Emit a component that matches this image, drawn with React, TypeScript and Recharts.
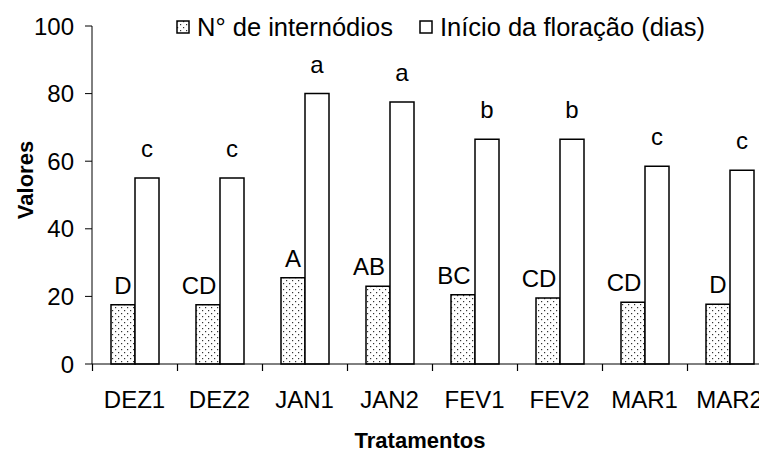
import { BarChart, Bar, XAxis, YAxis, Legend, LabelList } from 'recharts';

// --- DATA ---
const tratamentos = ['DEZ1', 'DEZ2', 'JAN1', 'JAN2', 'FEV1', 'FEV2', 'MAR1', 'MAR2'];
const internodios = [17.5, 17.5, 25.5, 23, 20.5, 19.5, 18.3, 17.7];
const floracao = [55, 55, 80, 77.5, 66.5, 66.5, 58.5, 57.3];
const letrasInternodios = ['D', 'CD', 'A', 'AB', 'BC', 'CD', 'CD', 'D'];
const letrasFloracao = ['c', 'c', 'a', 'a', 'b', 'b', 'c', 'c'];
const yTicks = [0, 20, 40, 60, 80, 100];
const seriesOrder = ['internodios', 'floracao'];

const data = tratamentos.map((t, i) => ({
  name: t,
  internodios: internodios[i],
  floracao: floracao[i],
  letraA: letrasInternodios[i],
  letraB: letrasFloracao[i],
}));

const FONT = '"Liberation Sans", Arial, sans-serif';
const tickText = { fill: '#000', fontSize: 24, fontFamily: FONT };

// letters above the bars
const makeLetter = (gap: number) => (props: any) => {
  const { x, y, width, value } = props;
  const shift = String(value).length > 1 ? -9 : 0;
  return (
    <text x={x + width / 2 + shift} y={y - gap} textAnchor="middle" fontSize={24} fontFamily={FONT} fill="#000">
      {value}
    </text>
  );
};

// category label in the middle, tick mark on the left edge of the band
const CategoryTick = (props: any) => {
  const { x, y, payload } = props;
  const lx = Math.round(x - (payload.offset || 0)) + 0.5;
  return (
    <g>
      <line x1={lx} x2={lx} y1={y} y2={y + 7} stroke="#000" strokeWidth={1.2} fill="none" />
      <text x={x} y={y + 27} dy="0.71em" textAnchor="middle" fontSize={24} fontFamily={FONT} fill="#000">
        {payload.value}
      </text>
    </g>
  );
};

const ValoresLabel = (props: any) => {
  const { viewBox } = props;
  const cx = viewBox.x + 1;
  const cy = viewBox.y + viewBox.height / 2 - 15;
  return (
    <text x={cx} y={cy} transform={`rotate(-90, ${cx}, ${cy})`} textAnchor="middle" fontSize={22} fontWeight="bold" fontFamily={FONT} fill="#000">
      Valores
    </text>
  );
};

const Dots = ({ id }: { id: string }) => (
  <pattern id={id} width="6" height="6" patternUnits="userSpaceOnUse">
    <rect width="6" height="6" fill="#fff" />
    <rect x="1" y="1" width="1.2" height="1.2" fill="#333" />
    <rect x="4" y="4" width="1.2" height="1.2" fill="#333" />
  </pattern>
);

const LegendBox = ({ payload }: any) => {
  const items = [...(payload || [])].sort(
    (a: any, b: any) => seriesOrder.indexOf(a.dataKey) - seriesOrder.indexOf(b.dataKey)
  );
  return (
    <div style={{ display: 'flex', alignItems: 'center', fontFamily: FONT, fontSize: 25.5, color: '#000', lineHeight: '30px', whiteSpace: 'nowrap' }}>
      {items.map((p: any, i: number) => (
        <div key={i} style={{ display: 'flex', alignItems: 'center', marginLeft: i === 0 ? 0 : 26 }}>
          <svg width={14} height={14} style={{ marginRight: 7 }}>
            <defs>
              <Dots id={`leg-dots-${i}`} />
            </defs>
            <rect x={1} y={1} width={12} height={12} fill={p.dataKey === 'internodios' ? `url(#leg-dots-${i})` : '#fff'} stroke="#000" strokeWidth={1.5} />
          </svg>
          <span>{p.value}</span>
        </div>
      ))}
    </div>
  );
};

export default function App() {
  return (
    <div style={{ position: 'absolute', left: 0, top: 0, background: '#fff' }}>
      <BarChart
        width={759}
        height={452}
        data={data}
        margin={{ top: 26, right: -13, bottom: 38, left: 32 }}
        barSize={24}
        barGap={0}
      >
        <defs>
          <Dots id="bar-dots" />
        </defs>
        <XAxis
          dataKey="name"
          tickLine={false}
          tickSize={0}
          tickMargin={0}
          tick={<CategoryTick />}
          axisLine={{ stroke: '#000', strokeWidth: 1 }}
          height={50}
          interval={0}
          label={{ value: 'Tratamentos', position: 'insideBottom', offset: -34, dx: -12, fontSize: 22, fontWeight: 'bold', fontFamily: FONT, fill: '#000' }}
        />
        <YAxis
          domain={[0, 100]}
          ticks={yTicks}
          width={60}
          tickSize={7}
          tickMargin={11}
          tick={tickText}
          axisLine={{ stroke: '#000', strokeWidth: 1 }}
          tickLine={{ stroke: '#000', strokeWidth: 1 }}
          label={<ValoresLabel />}
        />
        {/* vertical + middle + center keeps the legend from shrinking the plot area */}
        <Legend
          layout="vertical"
          verticalAlign="middle"
          align="center"
          content={<LegendBox />}
          wrapperStyle={{ top: 12, left: 176, width: 'auto' }}
        />
        <Bar dataKey="internodios" name="N° de internódios" fill="url(#bar-dots)" stroke="#000" strokeWidth={1.5} isAnimationActive={false}>
          <LabelList dataKey="letraA" content={makeLetter(11)} />
        </Bar>
        <Bar dataKey="floracao" name="Início da floração (dias)" fill="#fff" stroke="#000" strokeWidth={1.5} isAnimationActive={false}>
          <LabelList dataKey="letraB" content={makeLetter(21)} />
        </Bar>
      </BarChart>
    </div>
  );
}
